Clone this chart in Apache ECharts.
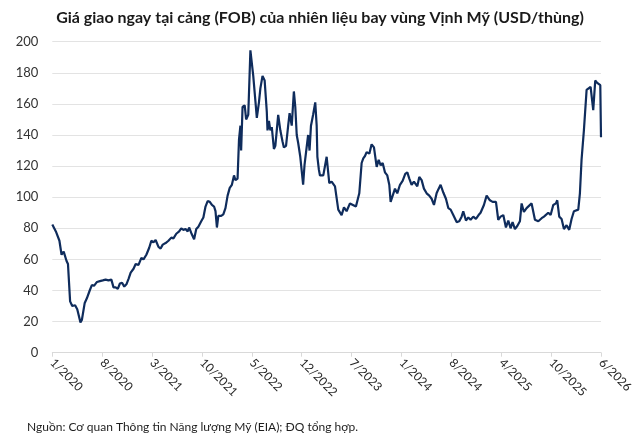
<!DOCTYPE html>
<html>
<head>
<meta charset="utf-8">
<script src="https://cdn.jsdelivr.net/npm/echarts@6/dist/echarts.min.js"></script>
<style>html,body{margin:0;padding:0;background:#fff}#c{width:640px;height:447px}</style>
</head>
<body>
<div id="c"></div>
<script>
// months since Jan 2020
const monthIndex = [0,0.5,1.0,1.3,1.6,1.7,2.0,2.2,2.5,2.8,3.2,3.5,3.95,4.15,4.55,4.85,5.25,5.55,5.85,6.27,6.67,7.08,7.48,7.88,8.29,8.59,8.89,9.19,9.49,9.79,10.1,10.4,10.7,11.0,11.4,11.7,12.1,12.5,12.8,13.2,13.6,13.9,14.2,14.5,14.9,15.2,15.5,15.9,16.3,16.7,17.0,17.4,17.8,18.1,18.4,18.7,19.0,19.2,19.5,19.9,20.2,20.5,20.9,21.2,21.5,21.8,22.1,22.4,22.7,22.9,23.1,23.3,23.7,24.0,24.3,24.6,24.9,25.2,25.5,25.7,26.0,26.2,26.4,26.5,26.7,27.0,27.2,27.5,27.8,28.2,28.5,28.7,29.0,29.2,29.5,29.8,30.1,30.2,30.4,30.6,30.8,31.1,31.3,31.5,31.7,32.0,32.3,32.5,32.8,33.1,33.3,33.6,33.9,34.1,34.3,34.5,34.8,35.2,35.4,35.6,35.9,36.1,36.3,36.6,36.9,37.1,37.2,37.4,
37.56,38.03,38.5,38.87,39.2,39.67,40.13,40.6,40.93,41.3,41.77,42.0,42.61,43.08,43.41,43.64,43.88,44.11,44.49,44.81,45.14,45.52,45.8,46.08,46.36,46.68,47.01,47.29,47.48,47.76,48.09,48.41,48.79,49.16,49.53,49.82,50.1,50.42,50.75,50.94,51.22,51.5,51.83,52.15,52.53,52.9,53.23,53.56,53.93,54.17,54.49,54.87,55.24,55.57,55.9,56.27,56.74,57.11,57.44,57.67,58.05,58.38,58.7,59.08,59.45,59.82,60.1,60.57,60.95,61.41,61.79,62.26,62.58,62.91,63.29,63.66,63.99,64.31,64.59,64.92,65.25,65.62,65.86,66.18,66.56,66.84,67.26,67.73,68.2,68.67,69.0,69.28,69.6,69.93,70.3,70.67,70.86,71.14,71.47,71.8,72.17,72.54,72.87,73.2,73.48,73.81,74.04,74.27,74.6,74.98,75.21,75.54,75.91,76.19,76.47,76.66,76.9,77.0];
const priceUSD = [82.5,78,72,63,65,66,59,57,33,30,30.5,28,19.5,21,32,35,40,43.5,43,45.5,46,46.5,47,46.5,47,42,42,41,44.5,45,42.5,44,47.5,51.5,54,57,56.5,61,60,63,67.5,72,71,72.5,68,67,69.5,70.5,72,74,73.5,76.5,78,80,79,79.5,78,80.5,77,73,79.5,81,84.5,87,94,97.5,97,95,94,91,80.5,88,88,89,93,101,106,108,114,111,112,137,146,130,158,159,150,153,194.5,178,162,151,161,170,178,175,155,143,149,143,145,131,133,143,153,143,136,132,133,146,154,146,168,158,140,135,126,108,121,122,140,130,146,153,161,146,126,118,114,
114,126,109,110,107,92,88.5,93.5,91,96,96,94,102.5,122,125,126.5,129,128,134,132,119.5,124,120.5,122,116,114,108,97,96,105.5,102.5,108,110.5,115,116,112,108,110,111,107,113,111,105.5,102.5,101,99,95,102.5,105,108,103,99,93,92,88.5,84,84.5,87.5,91,85,87,85.5,87.5,86,88.5,90,95,101,98,97,97,85.5,87.5,88.5,80.5,85,80,84,79.5,81.5,84.5,96,90.5,93,94,96,85.5,84.5,86.5,87.5,86.5,90,88.5,95,96,98,87.5,86,79.5,82,79,86,91,90,92,102.5,124,143,169,169,171,156,175,173.5,174,172,138.5,150.5];
const xTickLabels = ['1/2020','8/2020','3/2021','10/2021','5/2022','12/2022','7/2023','1/2024','8/2024','4/2025','10/2025','6/2026'];
const yTicks = [0,20,40,60,80,100,120,140,160,180,200];
const titleText = 'Giá giao ngay tại cảng (FOB) của nhiên liệu bay vùng Vịnh Mỹ (USD/thùng)';
const sourceText = 'Nguồn: Cơ quan Thông tin Năng lượng Mỹ (EIA); ĐQ tổng hợp.';

const seriesData = monthIndex.map((m, i) => [m, priceUSD[i]]);
const chart = echarts.init(document.getElementById('c'), null, {renderer: 'canvas'});
chart.setOption({
  animation: false,
  backgroundColor: '#ffffff',
  title: {
    text: titleText,
    left: 'center',
    top: 5,
    textStyle: {fontFamily: 'Lato', fontSize: 16, fontWeight: 'bold', color: '#1a1a1a'}
  },
  graphic: [{
    type: 'text', left: 27, top: 421,
    style: {text: sourceText, font: '12px Lato', fill: '#1e1e1e'}
  }],
  grid: {left: 52.3, right: 39, top: 41.7, bottom: 94.3, containLabel: false},
  xAxis: {
    type: 'value', min: 0, max: 77, interval: 7,
    axisLine: {show: true, lineStyle: {color: '#d9d9d9', width: 1}},
    axisTick: {show: true, length: 4, lineStyle: {color: '#d9d9d9'}},
    splitLine: {show: false},
    axisLabel: {
      rotate: -45, margin: 8, fontFamily: 'Lato', fontSize: 12, color: '#262626',
      formatter: v => xTickLabels[Math.round(v / 7)] || ''
    }
  },
  yAxis: {
    type: 'value', min: yTicks[0], max: yTicks[yTicks.length - 1], interval: 20,
    axisLine: {show: false}, axisTick: {show: false},
    splitLine: {show: true, lineStyle: {color: '#e3e3e3', width: 1.2}},
    axisLabel: {margin: 14, fontFamily: 'Lato', fontSize: 13, color: '#333333'}
  },
  series: [{
    type: 'line', data: seriesData, showSymbol: false, smooth: false,
    lineStyle: {color: '#0f2c5c', width: 2.2}
  }]
});
</script>
</body>
</html>
